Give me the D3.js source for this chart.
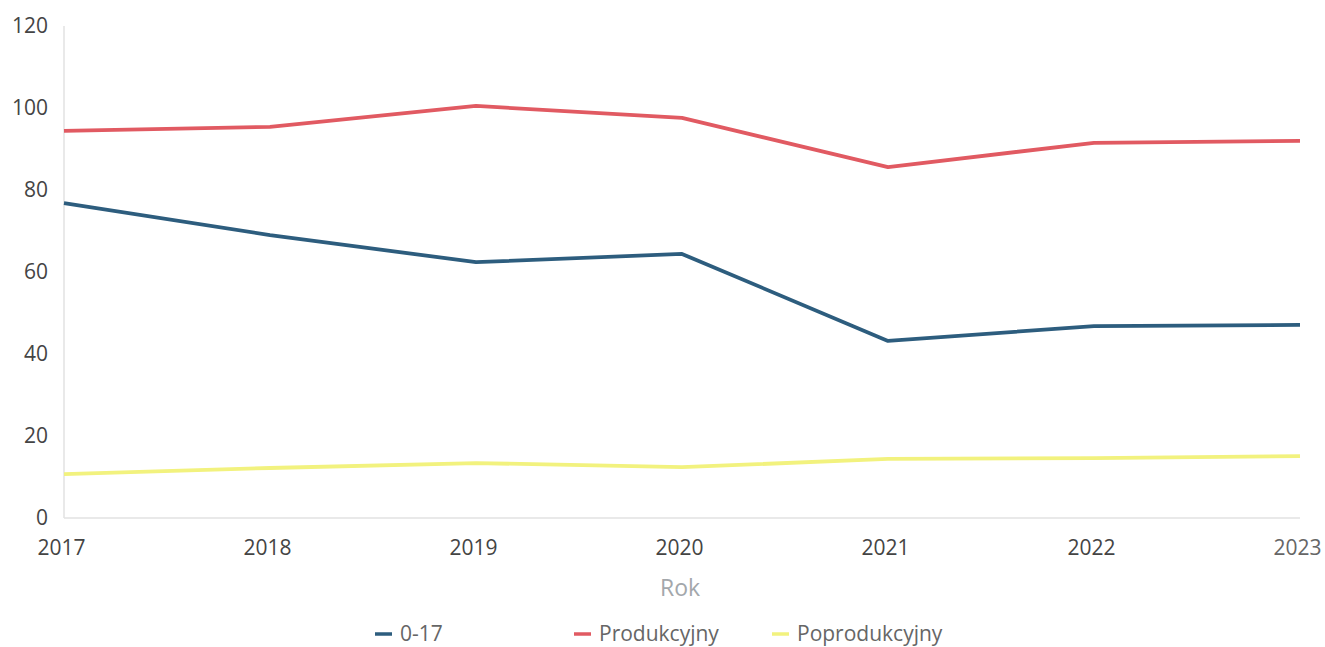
<!DOCTYPE html>
<html><head><meta charset="utf-8">
<script src="https://cdn.jsdelivr.net/npm/d3@7"></script>
<style>body{margin:0;background:#fff;} svg{display:block;font-family:"Open Sans",sans-serif;}</style>
</head><body><svg id="c" width="1325" height="647"></svg>
<script>
const years = [2017, 2018, 2019, 2020, 2021, 2022, 2023];
const seriesNames = ["0-17", "Produkcyjny", "Poprodukcyjny"];
const vals017 = [76.8, 69.0, 62.4, 64.4, 43.2, 46.8, 47.1];
const valsProd = [94.4, 95.4, 100.5, 97.6, 85.6, 91.5, 92.0];
const valsPoprod = [10.7, 12.2, 13.4, 12.4, 14.4, 14.6, 15.1];
const yTicks = [0, 20, 40, 60, 80, 100, 120];
const colors = ["#2d5d7e", "#e15a62", "#f2f27e"];
const series = [vals017, valsProd, valsPoprod];

const svg = d3.select("#c");
const x = d3.scalePoint().domain(years).range([64, 1300]);
const y = d3.scaleLinear().domain([0, 120]).range([518, 26]);

svg.append("line").attr("x1",64).attr("x2",64).attr("y1",y(120)).attr("y2",y(0)).attr("stroke","#e2e2e2").attr("stroke-width",1.5);
svg.append("line").attr("x1",64).attr("x2",1300).attr("y1",y(0)).attr("y2",y(0)).attr("stroke","#e2e2e2").attr("stroke-width",1.5);

const ya = svg.append("g").attr("transform","translate(48,0)")
  .call(d3.axisLeft(y).tickValues(yTicks).tickSize(0).tickPadding(0));
ya.select(".domain").remove();
ya.selectAll("text").attr("font-size",21).attr("fill","#444").attr("font-family","Open Sans, sans-serif");

const xa = svg.append("g").attr("transform","translate(-3,540)")
  .call(d3.axisBottom(x).tickFormat(d=>String(d)).tickSize(0).tickPadding(0));
xa.select(".domain").remove();
xa.selectAll("text").attr("font-size",21).attr("fill","#444").attr("font-family","Open Sans, sans-serif");
xa.selectAll("text").filter(d=>d===2023).attr("fill","#666");

svg.append("text").attr("x",680).attr("y",596).attr("text-anchor","middle")
  .attr("font-size",23).attr("fill","#a3a7ab").text("Rok");

const line = d3.line().x((d,i)=>x(years[i])).y(d=>y(d));
series.forEach((s,i)=>{
  svg.append("path").datum(s).attr("d",line).attr("fill","none")
    .attr("stroke",colors[i]).attr("stroke-width",3.8).attr("stroke-linejoin","round");
});

const legX = [375, 574, 772];
seriesNames.forEach((n,i)=>{
  svg.append("line").attr("x1",legX[i]).attr("x2",legX[i]+17).attr("y1",634).attr("y2",634)
    .attr("stroke",colors[i]).attr("stroke-width",3.5);
  svg.append("text").attr("x",legX[i]+25).attr("y",641).attr("font-size",21)
    .attr("fill","#666").text(n);
});
</script></body></html>
